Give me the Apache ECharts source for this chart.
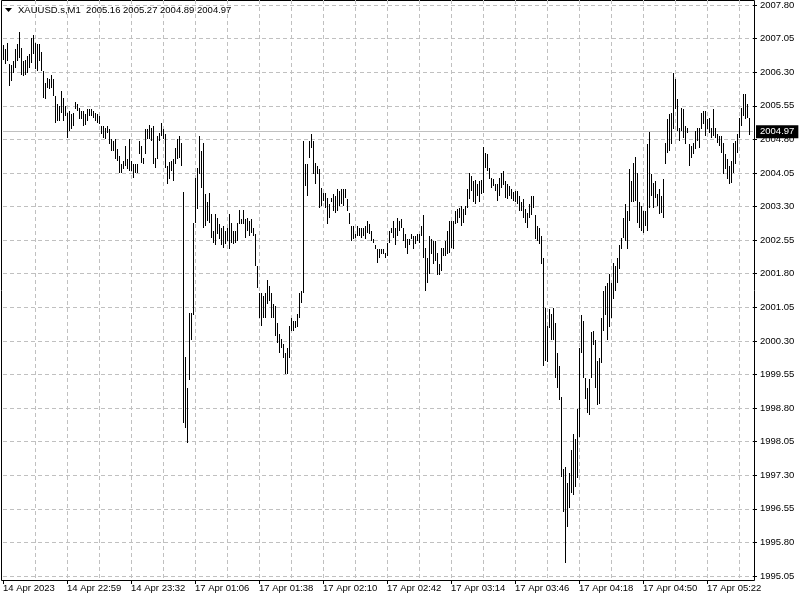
<!DOCTYPE html>
<html>
<head>
<meta charset="utf-8">
<script src="https://cdn.jsdelivr.net/npm/echarts@6/dist/echarts.min.js"></script>
<style>html,body{margin:0;padding:0;background:#fff;}#c{width:800px;height:600px;}</style>
</head>
<body>
<div id="c"></div>
<script>
// ---- data ----
const symbolTitle = 'XAUUSD.s,M1';
const lastBar = [2005.16, 2005.27, 2004.89, 2004.97]; // O H L C of the latest bar
const slotCount = 376; // bar slots on the time axis
const tickLabels = ['14 Apr 2023','14 Apr 22:59','14 Apr 23:32','17 Apr 01:06','17 Apr 01:38','17 Apr 02:10',
  '17 Apr 02:42','17 Apr 03:14','17 Apr 03:46','17 Apr 04:18','17 Apr 04:50','17 Apr 05:22'];
const priceTicks = { min: 1995.05, max: 2007.80, step: 0.75 };

const highs = [
2006.91,2006.82,2006.95,2006.49,2006.46,2006.55,2006.82,2006.93,2007.20,2006.84,
2006.55,2006.57,2006.66,2006.71,2007.06,2007.13,2006.95,2006.93,2006.93,2006.75,
2006.33,2006.06,2006.17,2006.15,2006.24,2006.15,2005.77,2005.59,2005.55,2005.88,
2005.73,2005.55,2005.39,2005.44,2005.37,2005.39,2005.64,2005.59,2005.50,2005.44,
2005.44,2005.37,2005.48,2005.48,2005.48,2005.44,2005.39,2005.37,2005.33,2005.10,
2005.10,2005.06,2005.10,2005.04,2004.81,2004.77,2004.81,2004.59,2004.43,2004.25,
2004.32,2004.66,2004.37,2004.81,2004.32,2004.25,2004.25,2004.25,2004.77,2004.66,
2004.39,2005.04,2005.04,2005.12,2005.06,2005.10,2004.39,2004.88,2004.95,2005.17,
2005.04,2004.92,2004.21,2004.30,2004.32,2004.37,2004.61,2004.81,2004.88,2004.72,
2003.63,1999.93,1999.24,2000.93,2000.93,2002.94,2003.94,2004.17,2004.88,2004.55,
2004.72,2003.59,2003.39,2003.61,2003.14,2002.76,2003.14,2003.05,2002.92,2002.83,
2002.87,2002.76,2002.81,2003.14,2002.94,2002.76,2002.76,2002.94,2003.23,2003.03,
2003.23,2003.03,2003.05,2002.98,2003.03,2002.83,2002.69,2001.98,2001.38,2001.36,
2001.31,2001.36,2001.67,2001.53,2001.36,2001.13,2001.09,2000.69,2000.46,2000.35,
2000.24,2000.04,2000.13,2000.64,2000.82,2000.75,2000.75,2000.91,2001.38,2001.42,
2004.77,2004.25,2004.25,2004.77,2004.92,2004.77,2004.28,2004.21,2004.14,2003.72,
2003.61,2003.61,2003.50,2003.36,2003.50,2003.59,2003.54,2003.70,2003.65,2003.70,
2003.70,2003.70,2003.47,2003.16,2002.87,2002.87,2002.69,2002.87,2002.81,2002.81,
2002.81,2002.87,2002.98,2002.92,2002.76,2002.58,2002.43,2002.36,2002.36,2002.36,
2002.36,2002.27,2002.49,2002.76,2002.81,2002.98,2002.83,2003.05,2002.98,2003.03,
2002.81,2002.69,2002.58,2002.58,2002.69,2002.65,2002.65,2002.69,2002.69,2002.87,
2003.10,2002.38,2002.16,2002.65,2002.58,2002.54,2002.54,2002.27,2002.02,2002.38,
2002.38,2002.54,2002.76,2002.98,2002.98,2002.98,2003.21,2003.25,2003.27,2003.32,
2003.25,2003.32,2003.70,2004.05,2003.99,2003.88,2003.90,2003.81,2003.88,2003.90,
2004.63,2004.50,2004.48,2004.17,2003.94,2003.92,2003.81,2003.81,2003.94,2004.05,
2004.10,2003.88,2003.81,2003.76,2003.70,2003.63,2003.65,2003.65,2003.54,2003.39,
2003.47,2003.25,2003.16,2003.36,2003.54,2003.54,2003.10,2002.87,2002.81,2002.65,
2002.16,2001.04,2000.64,2001.02,2000.91,2001.04,2000.69,2000.02,1999.75,1999.04,
1997.45,1997.48,1997.12,1997.34,1997.86,1998.23,1998.12,1998.79,2000.15,2000.87,
2000.75,1999.48,1999.24,1999.46,2000.49,2000.53,2000.31,1999.86,1999.91,2000.82,
2001.42,2001.53,2001.60,2001.80,2001.60,2002.05,2001.98,2002.16,2002.43,2002.60,
2003.05,2003.36,2003.21,2004.14,2003.88,2004.28,2004.41,2004.05,2003.39,2003.32,
2003.21,2003.21,2004.70,2004.97,2004.03,2003.83,2003.88,2003.59,2003.70,2003.54,
2003.92,2004.72,2005.26,2005.37,2005.39,2006.28,2006.15,2005.70,2005.06,2005.50,
2005.48,2005.10,2005.06,2004.70,2004.66,2004.72,2004.99,2005.06,2005.06,2005.39,
2005.44,2005.44,2005.26,2005.28,2005.06,2005.48,2005.06,2004.92,2004.88,2004.88,
2004.72,2004.48,2004.37,2004.21,2004.32,2004.72,2004.77,2004.92,2005.28,2005.50,
2005.82,2005.82,2005.59,2005.27
];
const lows = [
2006.57,2006.49,2006.55,2005.99,2006.11,2006.28,2006.40,2006.55,2006.62,2006.24,
2006.22,2006.24,2006.28,2006.40,2006.51,2006.71,2006.37,2006.33,2006.55,2006.33,
2005.73,2005.70,2005.95,2005.93,2005.95,2005.77,2005.17,2005.21,2005.21,2005.39,
2005.21,2005.33,2004.83,2004.99,2005.04,2005.10,2005.48,2005.44,2005.26,2005.26,
2005.10,2005.12,2005.21,2005.33,2005.33,2005.28,2005.21,2005.17,2005.15,2004.92,
2004.83,2004.81,2004.95,2004.70,2004.55,2004.55,2004.37,2004.32,2004.05,2004.05,
2004.14,2004.21,2004.14,2004.10,2004.10,2003.94,2004.05,2004.05,2004.48,2004.28,
2004.25,2004.48,2004.81,2004.81,2004.77,2004.25,2004.17,2004.37,2004.77,2004.88,
2004.81,2004.17,2003.81,2003.92,2004.10,2003.88,2004.25,2004.37,2004.39,2004.21,
1998.46,1998.35,1998.03,1999.42,2000.31,2000.87,2002.94,2003.25,2004.03,2003.72,
2002.83,2002.87,2002.98,2002.94,2002.60,2002.49,2002.43,2002.69,2002.58,2002.43,
2002.38,2002.47,2002.54,2002.36,2002.49,2002.47,2002.49,2002.54,2002.92,2002.92,
2002.92,2002.60,2002.76,2002.65,2002.72,2002.65,2001.98,2001.47,2000.82,2000.64,
2000.80,2000.82,2001.13,2001.20,2000.82,2000.82,2000.42,2000.26,2000.04,2000.15,
1999.91,1999.57,1999.57,1999.91,2000.53,2000.53,2000.58,2000.60,2000.82,2001.15,
2001.38,2003.76,2003.54,2004.39,2004.61,2004.03,2003.81,2004.03,2003.27,2003.32,
2003.43,2003.27,2002.92,2003.05,2003.39,2003.21,2003.16,2003.21,2003.32,2003.36,
2003.32,2003.50,2003.21,2002.92,2002.54,2002.58,2002.60,2002.65,2002.65,2002.60,
2002.65,2002.58,2002.72,2002.69,2002.54,2002.49,2002.36,2002.05,2002.16,2002.25,
2002.25,2002.16,2002.20,2002.49,2002.72,2002.60,2002.43,2002.65,2002.76,2002.81,
2002.54,2002.38,2002.25,2002.43,2002.58,2002.36,2002.47,2002.54,2002.49,2002.65,
2002.16,2001.42,2001.60,2001.80,2002.25,2002.02,2002.09,2001.76,2001.76,2001.87,
2002.20,2002.20,2002.25,2002.27,2002.38,2002.36,2002.92,2002.94,2003.05,2002.87,
2002.94,2003.10,2003.27,2003.47,2003.65,2003.39,2003.36,2003.54,2003.39,2003.59,
2003.61,2004.17,2004.10,2003.92,2003.72,2003.76,2003.65,2003.43,2003.54,2003.72,
2003.79,2003.50,2003.47,2003.54,2003.47,2003.43,2003.39,2003.36,2003.21,2003.21,
2003.05,2002.94,2002.83,2003.05,2003.10,2003.27,2002.58,2002.54,2002.47,2002.02,
1999.75,1999.86,1999.82,2000.58,2000.31,2000.31,1999.48,1999.24,1998.97,1997.25,
1996.47,1995.34,1996.14,1996.56,1996.90,1996.85,1997.03,1997.23,1998.15,2000.04,
1999.48,1999.01,1998.68,1998.64,1999.48,2000.20,1999.24,1998.86,1998.90,1999.80,
2000.53,2000.87,2000.31,2000.60,2000.82,2001.24,2001.42,2001.60,2001.91,2002.36,
2002.60,2002.54,2002.36,2002.98,2003.39,2003.39,2003.43,2002.94,2002.81,2002.76,
2002.72,2002.87,2002.76,2003.27,2003.54,2003.27,2003.50,2003.32,2003.14,2003.16,
2003.05,2004.25,2004.50,2004.55,2004.70,2005.04,2005.48,2004.99,2004.77,2004.99,
2004.83,2004.70,2004.95,2004.21,2004.39,2004.48,2004.59,2004.77,2004.61,2005.04,
2005.15,2004.88,2005.04,2004.95,2004.83,2004.88,2004.83,2004.72,2004.66,2004.50,
2004.03,2004.14,2003.92,2003.81,2003.83,2004.05,2004.25,2004.50,2004.83,2005.10,
2005.33,2005.26,2005.28,2004.89
];

// ---- chart ----
const FONT = 'Liberation Sans';
const categories = Array.from({length: slotCount}, (_, i) => String(i));
const bars = highs.map((h, i) => [i, lows[i], h]);
const gridColor = '#c0c0c0';

const chart = echarts.init(document.getElementById('c'), null, {renderer: 'canvas'});
chart.setOption({
  animation: false,
  backgroundColor: '#ffffff',
  title: {
    text: symbolTitle + '  ' + lastBar.map(v => v.toFixed(2)).join(' '),
    left: 18, top: 5, padding: 0,
    textStyle: {fontFamily: FONT, fontSize: 9.5, fontWeight: 'normal', color: '#000'}
  },
  graphic: [{
    type: 'polygon', shape: {points: [[5, 8], [12, 8], [8.5, 12]]},
    style: {fill: '#000'}
  }],
  grid: [
    {left: 3, right: 47, top: 0, bottom: 20},
    {left: 3, right: 47, top: 4, bottom: 24},
    {left: 1.5, right: 45.5, top: 0.5, bottom: 19.5, show: true, borderColor: '#000', borderWidth: 1, backgroundColor: 'transparent'}
  ],
  xAxis: [
    {
      gridIndex: 0, type: 'category', data: categories, boundaryGap: false,
      axisLine: {show: false},
      axisTick: {show: true, length: 4, interval: (i) => i % 32 === 0, lineStyle: {color: '#000'}},
      axisLabel: {
        show: true, interval: (i) => i % 32 === 0, align: 'left', margin: 3,
        fontFamily: FONT, fontSize: 9.5, color: '#000',
        formatter: (v, i) => (i % 32 === 0 ? (tickLabels[i / 32] || '') : '')
      },
      splitLine: {show: true, interval: (i) => i % 16 === 0 && i > 0, lineStyle: {color: gridColor, type: [4, 3], width: 1}}
    },
    {gridIndex: 1, type: 'category', data: categories, boundaryGap: false, show: false},
    {gridIndex: 2, type: 'value', show: false}
  ],
  yAxis: [
    {gridIndex: 0, type: 'value', show: false, min: 0, max: 1},
    {
      gridIndex: 1, type: 'value', position: 'right',
      min: priceTicks.min, max: priceTicks.max, interval: priceTicks.step,
      axisLine: {show: false},
      axisTick: {show: true, length: 4, lineStyle: {color: '#000'}},
      axisLabel: {margin: 7, fontFamily: FONT, fontSize: 9.5, color: '#000', formatter: v => v.toFixed(2)},
      splitLine: {show: true, lineStyle: {color: gridColor, type: [4, 3], width: 1}}
    },
    {gridIndex: 2, type: 'value', show: false}
  ],
  series: [{
    type: 'custom',
    xAxisIndex: 1, yAxisIndex: 1,
    data: bars,
    encode: {x: 0, y: [1, 2]},
    renderItem: function (params, api) {
      const i = api.value(0);
      const top = api.coord([i, api.value(2)]);
      const bot = api.coord([i, api.value(1)]);
      const x = Math.round(top[0]) + 0.5;
      const y1 = Math.round(top[1]);
      let y2 = Math.round(bot[1]);
      if (y2 - y1 < 2) y2 = y1 + 2;
      return {type: 'line', shape: {x1: x, y1: y1, x2: x, y2: y2}, style: {stroke: '#000', lineWidth: 1}};
    },
    markLine: {
      silent: true, symbol: ['none', 'none'],
      lineStyle: {color: gridColor, type: 'solid', width: 1},
      label: {
        show: true, position: 'end', distance: 3,
        formatter: () => lastBar[3].toFixed(2),
        backgroundColor: '#000', color: '#fff', padding: [2, 4, 1, 4],
        fontFamily: FONT, fontSize: 9.5
      },
      data: [{yAxis: lastBar[3]}]
    },
    z: 5
  }]
});
</script>
</body>
</html>
